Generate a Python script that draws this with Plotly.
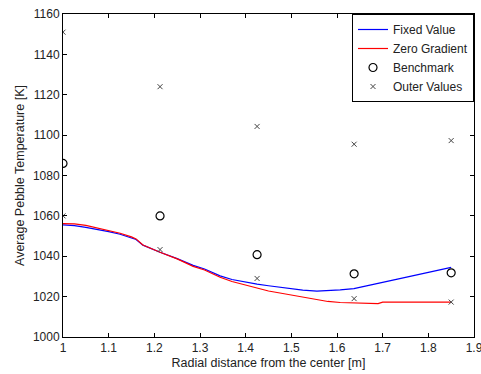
import plotly.graph_objects as go

# Radial profiles of the average pebble temperature
r_fixed = [1.000, 1.025, 1.050, 1.075, 1.100, 1.125, 1.150, 1.160, 1.175, 1.200,
           1.2125, 1.250, 1.285, 1.310, 1.344, 1.370, 1.400, 1.425, 1.450, 1.475,
           1.500, 1.525, 1.556, 1.580, 1.607, 1.637, 1.665, 1.695, 1.725, 1.760,
           1.790, 1.820, 1.850]
t_fixed = [1055.5, 1055.2, 1054.3, 1053.3, 1052.2, 1050.9, 1049.2, 1048.3, 1045.5, 1043.0,
           1042.0, 1038.8, 1035.5, 1033.7, 1030.3, 1028.5, 1027.1, 1026.2, 1025.4, 1024.6,
           1023.9, 1023.2, 1022.7, 1022.9, 1023.3, 1024.0, 1025.3, 1026.8, 1028.3, 1030.0,
           1031.5, 1033.0, 1034.5]

r_zero = [1.000, 1.025, 1.050, 1.075, 1.100, 1.125, 1.150, 1.160, 1.175, 1.200,
          1.2125, 1.250, 1.285, 1.310, 1.344, 1.370, 1.400, 1.425, 1.450, 1.475,
          1.500, 1.525, 1.556, 1.580, 1.607, 1.637, 1.665, 1.690, 1.700, 1.750,
          1.800, 1.850]
t_zero = [1056.2, 1056.0, 1055.3, 1054.0, 1052.8, 1051.4, 1049.6, 1048.6, 1045.6, 1043.1,
          1042.0, 1038.7, 1035.0, 1033.2, 1029.6, 1027.5, 1025.6, 1024.2, 1022.8, 1021.8,
          1020.8, 1019.6, 1018.2, 1017.6, 1017.1, 1016.8, 1016.5, 1016.5, 1017.3, 1017.3,
          1017.3, 1017.3]

r_bench = [1.0, 1.2125, 1.425, 1.6375, 1.85]
t_bench = [1086, 1060, 1040.8, 1031.3, 1031.8]

r_outer = [1.0, 1.0, 1.2125, 1.2125, 1.425, 1.425, 1.6375, 1.6375, 1.85, 1.85]
t_outer = [1151, 1060, 1124, 1043.3, 1104.3, 1029, 1095.5, 1019, 1097.3, 1017.3]

x_ticks = [1.0, 1.1, 1.2, 1.3, 1.4, 1.5, 1.6, 1.7, 1.8, 1.9]
x_labels = ["1", "1.1", "1.2", "1.3", "1.4", "1.5", "1.6", "1.7", "1.8", "1.9"]
y_ticks = [1000, 1020, 1040, 1060, 1080, 1100, 1120, 1140, 1160]

font_family = "Arial, Liberation Sans, sans-serif"
text_color = "#222222"

fig = go.Figure()
fig.add_trace(go.Scatter(x=r_fixed, y=t_fixed, mode="lines", name="Fixed Value",
                         line=dict(color="#0000ff", width=1.2)))
fig.add_trace(go.Scatter(x=r_zero, y=t_zero, mode="lines", name="Zero Gradient",
                         line=dict(color="#ff0000", width=1.2)))
fig.add_trace(go.Scatter(x=r_bench, y=t_bench, mode="markers", name="Benchmark",
                         marker=dict(symbol="circle-open", size=8, color="#000000",
                                     line=dict(width=1.2, color="#000000"))))
fig.add_trace(go.Scatter(x=r_outer, y=t_outer, mode="markers", name="Outer Values",
                         marker=dict(symbol="x-thin-open", size=5, color="#444444",
                                     line=dict(width=1, color="#444444"))))

axis_common = dict(showline=True, linecolor="#000000", linewidth=1, mirror="ticks",
                   ticks="inside", ticklen=4, tickcolor="#000000", showgrid=False,
                   zeroline=False, ticklabeloverflow="allow", automargin=False,
                   tickfont=dict(size=12, color=text_color, family=font_family))

fig.update_xaxes(range=[1.0, 1.9], tickvals=x_ticks, ticktext=x_labels,
                 title=dict(text="Radial distance from the center [m]", standoff=3,
                            font=dict(size=12.5, color=text_color, family=font_family)),
                 **axis_common)
fig.update_yaxes(range=[1000, 1160], tickvals=y_ticks,
                 title=dict(text="Average Pebble Temperature [K]", standoff=5,
                            font=dict(size=12.5, color=text_color, family=font_family)),
                 **axis_common)

fig.update_layout(
    width=481, height=374,
    margin=dict(l=63, r=7, t=14, b=37),
    paper_bgcolor="#ffffff", plot_bgcolor="#ffffff",
    font=dict(family=font_family, size=12, color=text_color),
    showlegend=True,
    legend=dict(x=1, y=1, xanchor="right", yanchor="top",
                bgcolor="#ffffff", bordercolor="#000000", borderwidth=1,
                font=dict(size=12, color=text_color, family=font_family),
                tracegroupgap=0, itemwidth=30),
)

fig.write_html("out.html")
